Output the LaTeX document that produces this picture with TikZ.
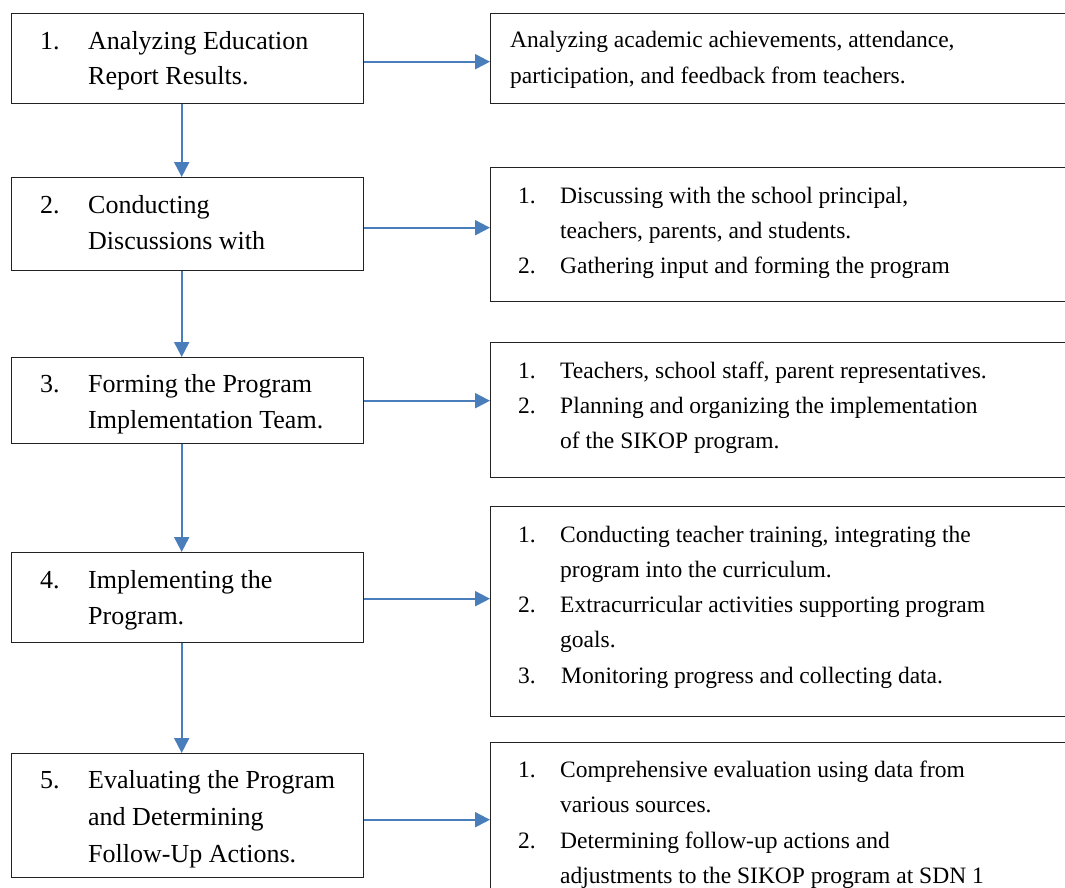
\documentclass[tikz,border=0pt]{standalone}
\usepackage{fontspec}
\setmainfont{Liberation Serif}
\usetikzlibrary{arrows.meta}
\definecolor{arrowblue}{HTML}{4A7EBB}
\definecolor{boxline}{HTML}{222222}
\tikzset{
  box/.style={draw=boxline, line width=1.4pt, anchor=north west, inner sep=0pt, fill=none},
  ltxt/.style={anchor=base west, inner sep=0pt, font=\fontsize{26}{36}\selectfont},
  rtxt/.style={anchor=base west, inner sep=0pt, font=\fontsize{23.5}{35}\selectfont},
  conn/.style={draw=arrowblue, line width=2pt, -{Triangle[length=15pt,width=15pt]}}
}
\begin{document}
\begin{tikzpicture}[x=1pt,y=-1pt]
\useasboundingbox (0,0) rectangle (1065,887);
\clip (0,0) rectangle (1065,887);
\fill[white] (0,0) rectangle (1065,887);
% left boxes
\node[box, minimum width=352pt, minimum height=90pt] (L1) at (11,13) {};
\node[box, minimum width=352pt, minimum height=93pt] (L2) at (11,177) {};
\node[box, minimum width=352pt, minimum height=86pt] (L3) at (11,357) {};
\node[box, minimum width=352pt, minimum height=90pt] (L4) at (11,552) {};
\node[box, minimum width=352pt, minimum height=124pt] (L5) at (11,753) {};
% right boxes
\node[box, minimum width=590pt, minimum height=90pt] (R1) at (490,13) {};
\node[box, minimum width=590pt, minimum height=134pt] (R2) at (490,167) {};
\node[box, minimum width=590pt, minimum height=135pt] (R3) at (490,342) {};
\node[box, minimum width=590pt, minimum height=210pt] (R4) at (490,506) {};
\node[box, minimum width=590pt, minimum height=160pt] (R5) at (490,742) {};
% left texts
\node[ltxt] (n1) at (40,49) {1.};
\node[ltxt] (t1a) at (88,49) {Analyzing Education};
\node[ltxt] (t1b) at (88,84) {Report Results.};
\node[ltxt] (n2) at (40,213) {2.};
\node[ltxt] (t2a) at (88,213) {Conducting};
\node[ltxt] (t2b) at (88,249) {Discussions with};
\node[ltxt] (n3) at (40,392) {3.};
\node[ltxt] (t3a) at (88,392) {Forming the Program};
\node[ltxt] (t3b) at (88,428) {Implementation Team.};
\node[ltxt] (n4) at (40,588) {4.};
\node[ltxt] (t4a) at (88,588) {Implementing the};
\node[ltxt] (t4b) at (88,624) {Program.};
\node[ltxt] (n5) at (40,788) {5.};
\node[ltxt] (t5a) at (88,788) {Evaluating the Program};
\node[ltxt] (t5b) at (88,825) {and Determining};
\node[ltxt] (t5c) at (88,862) {Follow-Up Actions.};
% right texts
\node[rtxt] (r1a) at (510,47) {Analyzing academic achievements, attendance,};
\node[rtxt] (r1b) at (510,83) {participation, and feedback from teachers.};
\node[rtxt] (m21) at (518,203) {1.};
\node[rtxt] (r2a) at (560,203) {Discussing with the school principal,};
\node[rtxt] (r2b) at (560,238) {teachers, parents, and students.};
\node[rtxt] (m22) at (518,273) {2.};
\node[rtxt] (r2c) at (560,273) {Gathering input and forming the program};
\node[rtxt] (m31) at (518,378) {1.};
\node[rtxt] (r3a) at (560,378) {Teachers, school staff, parent representatives.};
\node[rtxt] (m32) at (518,413) {2.};
\node[rtxt] (r3b) at (560,413) {Planning and organizing the implementation};
\node[rtxt] (r3c) at (560,448) {of the SIKOP program.};
\node[rtxt] (m41) at (518,542) {1.};
\node[rtxt] (r4a) at (560,542) {Conducting teacher training, integrating the};
\node[rtxt] (r4b) at (560,577) {program into the curriculum.};
\node[rtxt] (m42) at (518,612) {2.};
\node[rtxt] (r4c) at (560,612) {Extracurricular activities supporting program};
\node[rtxt] (r4d) at (560,647) {goals.};
\node[rtxt] (m43) at (518,683) {3.};
\node[rtxt] (r4e) at (561,683) {Monitoring progress and collecting data.};
\node[rtxt] (m51) at (518,777) {1.};
\node[rtxt] (r5a) at (560,777) {Comprehensive evaluation using data from};
\node[rtxt] (r5b) at (560,812) {various sources.};
\node[rtxt] (m52) at (518,848) {2.};
\node[rtxt] (r5c) at (560,848) {Determining follow-up actions and};
\node[rtxt] (r5d) at (560,883) {adjustments to the SIKOP program at SDN 1};
% horizontal connectors
\draw[conn] ([yshift=-3pt]L1.east) -- ([yshift=-3pt]L1.east -| R1.west);
\draw[conn] ([yshift=-3.5pt]L2.east) -- ([yshift=-3.5pt]L2.east -| R2.west);
\draw[conn] (L3.east) -- (L3.east -| R3.west);
\draw[conn] ([yshift=-1pt]L4.east) -- ([yshift=-1pt]L4.east -| R4.west);
\draw[conn] ([yshift=-4pt]L5.east) -- ([yshift=-4pt]L5.east -| R5.west);
% vertical connectors
\draw[conn] ([xshift=-6pt]L1.south) -- ([xshift=-6pt]L2.north);
\draw[conn] ([xshift=-6pt]L2.south) -- ([xshift=-6pt]L3.north);
\draw[conn] ([xshift=-6pt]L3.south) -- ([xshift=-6pt]L4.north);
\draw[conn] ([xshift=-6pt]L4.south) -- ([xshift=-6pt]L5.north);
\end{tikzpicture}
\end{document}
